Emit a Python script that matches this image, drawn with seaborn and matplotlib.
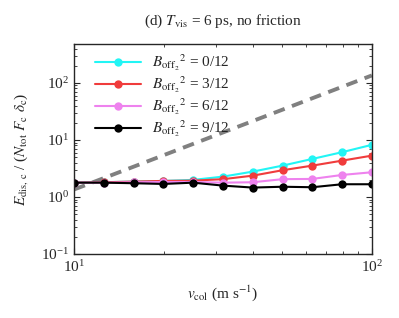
import numpy as np
import pandas as pd
import seaborn as sns
import matplotlib
matplotlib.use("Agg")
import matplotlib.pyplot as plt
from matplotlib.ticker import LogLocator, NullFormatter

# collision speed (m/s)
v_col = [10.0, 12.59, 15.85, 19.95, 25.12, 31.62, 39.81, 50.12, 63.10, 79.43, 100.0]

b_labels = ["0/12", "3/12", "6/12", "9/12"]
e_b0 = [1.78, 1.81, 1.86, 1.91, 1.99, 2.27, 2.78, 3.54, 4.64, 6.09, 8.2]
e_b3 = [1.78, 1.81, 1.86, 1.91, 1.93, 2.05, 2.36, 2.94, 3.54, 4.33, 5.30]
e_b6 = [1.78, 1.78, 1.81, 1.83, 1.83, 1.78, 1.81, 2.05, 2.07, 2.43, 2.71]
e_b9 = [1.78, 1.78, 1.74, 1.69, 1.78, 1.58, 1.46, 1.51, 1.48, 1.67, 1.67]

# reference slope-2 line
ref_v = [10.0, 100.0]
ref_e = [1.35, 135.0]

colors = ["#22f5f5", "#f03c3c", "#ee82ee", "#000000"]

sns.set_style("ticks")
plt.rcParams["font.family"] = ["Liberation Serif", "DejaVu Serif"]
plt.rcParams["mathtext.fontset"] = "stix"
plt.rcParams["xtick.direction"] = "in"
plt.rcParams["ytick.direction"] = "in"

fig = plt.figure(figsize=(3.99, 3.18), dpi=100)
ax = fig.add_axes([0.1855, 0.2013, 0.7465, 0.6603])

sns.lineplot(x=ref_v, y=ref_e, ax=ax, color="#808080", linestyle=(0, (3, 2)),
             linewidth=2.8, legend=False)

for vals, lab, c in zip([e_b0, e_b3, e_b6, e_b9], b_labels, colors):
    df = pd.DataFrame({"v": v_col, "e": vals})
    sns.lineplot(data=df, x="v", y="e", ax=ax, color=c, marker="o",
                 markersize=6, markeredgewidth=0, linewidth=1.5,
                 label=r"$B_{\mathrm{off}_2}{}^{2}$ = " + lab)

ax.set_xscale("log")
ax.set_yscale("log")
ax.set_xlim(10, 100)
ax.set_ylim(0.1, 480)

ax.yaxis.set_major_locator(LogLocator(base=10, numticks=10))
ax.yaxis.set_minor_locator(LogLocator(base=10, subs=np.arange(2, 10), numticks=10))
ax.yaxis.set_minor_formatter(NullFormatter())
ax.xaxis.set_minor_formatter(NullFormatter())
ax.tick_params(which="both", top=True, right=True, labelsize=11)
ax.tick_params(which="major", length=4, width=0.8)
ax.tick_params(which="minor", length=2, width=0.6)
for s in ax.spines.values():
    s.set_linewidth(1.0)

ax.set_xlabel(r"$v_{\mathrm{col}}$ (m s$^{-1}$)", fontsize=11, labelpad=6)
ax.set_ylabel(r"$E_{\mathrm{dis,\,c}}$ / ($N_{\mathrm{tot}}$ $F_{\mathrm{c}}$ $\delta_{\mathrm{c}}$)",
              fontsize=11, labelpad=8)
ax.set_title(r"(d) $T_{\mathrm{vis}}$ = 6 ps, no friction", fontsize=11, pad=14)

ax.legend(loc="upper left", bbox_to_anchor=(0.04, 1.0), frameon=False,
          fontsize=11, handlelength=3.0, borderaxespad=0.2,
          labelspacing=0.12, handletextpad=0.7)

fig.savefig("out.png", dpi=100)
